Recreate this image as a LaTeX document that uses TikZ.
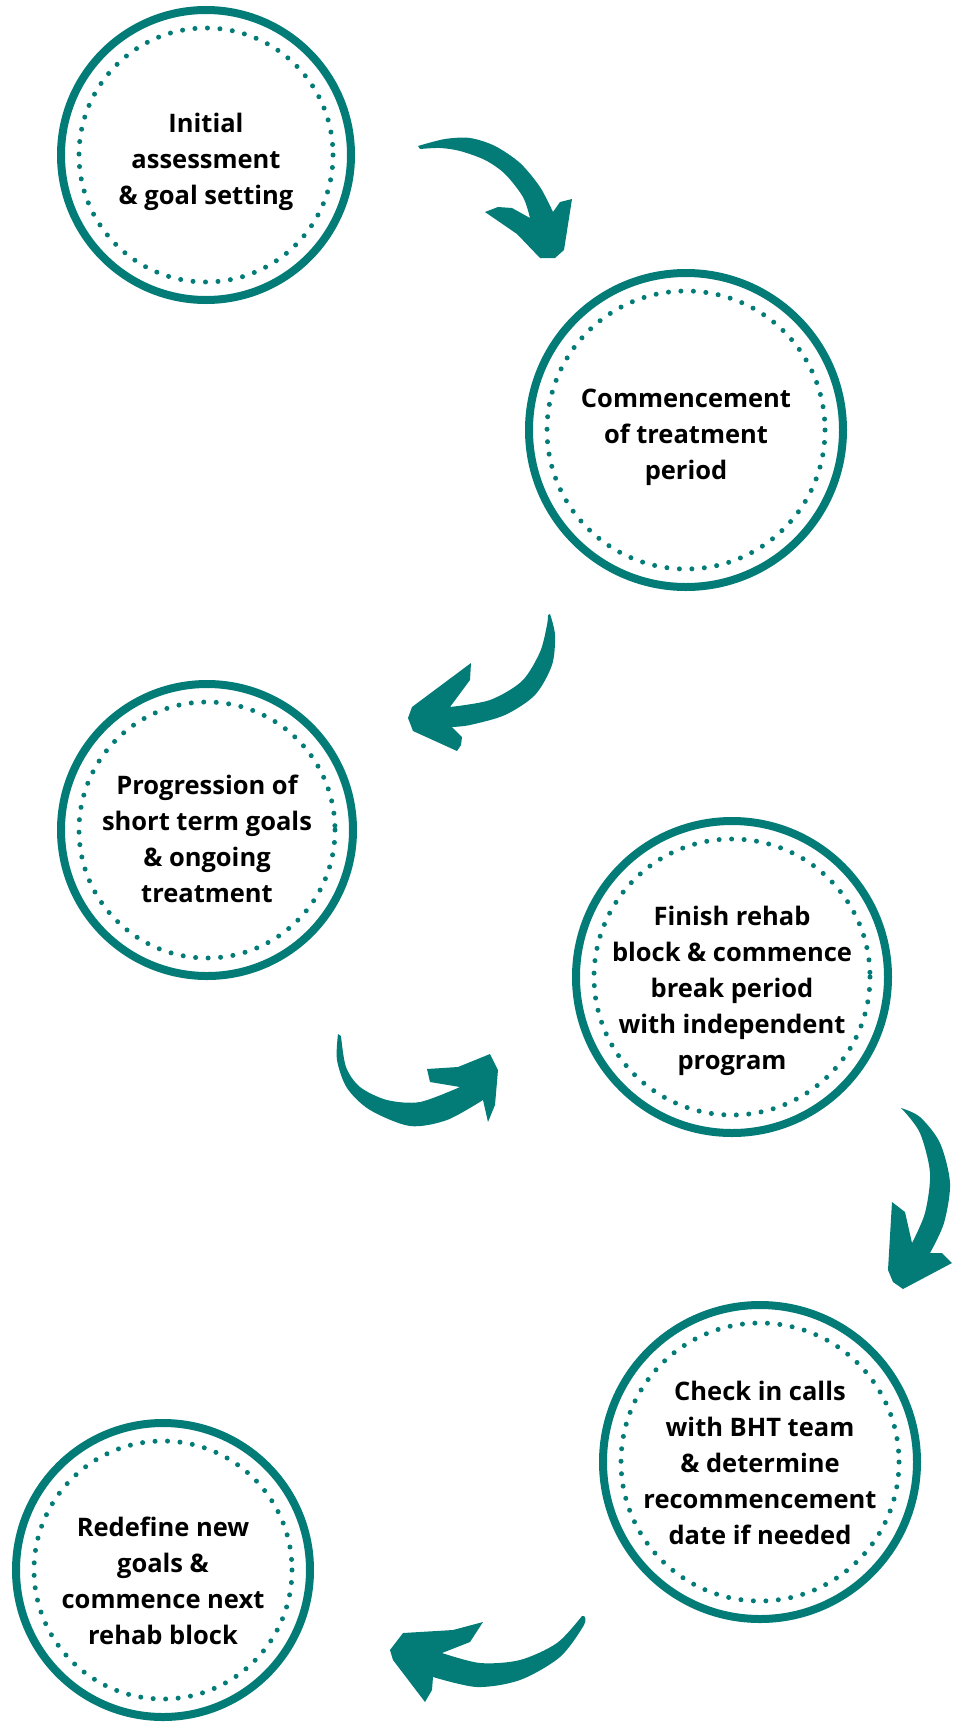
\documentclass[tikz,border=0pt]{standalone}
\usepackage{fontspec}
\setmainfont{Open Sans}
\definecolor{rehabteal}{HTML}{037C78}

\begin{document}
\begin{tikzpicture}[x=1pt,y=-1pt]
  \tikzstyle{stage}=[circle,draw=rehabteal,line width=8pt,fill=white,inner sep=0pt]
  \tikzstyle{stagetext}=[align=center,inner sep=0pt,font=\bfseries\fontsize{25.5}{36}\selectfont]
  \tikzstyle{dots}=[draw=rehabteal,line width=5pt,line cap=round,dash pattern=on 0pt off 12.5pt]
  \tikzstyle{swoosh}=[fill=rehabteal]

  \useasboundingbox (0,0) rectangle (964,1727);

  \foreach \name/\x/\y/\r/\dy/\text in {
      1/206/155/145/7/{Initial\\assessment\\\& goal setting},
      2/686/430/157/7/{Commencement\\of treatment\\period},
      3/207/830/146/9/{Progression of\\short term goals\\\& ongoing\\treatment},
      4/732/977/156/14/{Finish rehab\\block \& commence\\break period\\with independent\\program},
      5/760/1462/157/1/{Check in calls\\with BHT team\\\& determine\\recommencement\\date if needed},
      6/163/1570/147/11/{Redefine new\\goals \&\\commence next\\rehab block}}
  {
    \node[stage,minimum size=2*\r pt] (S-\name) at (\x,\y) {};
    \draw[dots] (S-\name.center) circle ({\r-18});
    \node[stagetext] (T-\name) at ([yshift=-\dy pt]S-\name.center) {\text};
  }

  % hand drawn arrows between the stages
  \fill[swoosh] plot[smooth] coordinates {(418,146) (445,139) (470,138) (495,146) (520,163) (540,187) (553,212)}
    -- (560,202) -- (572,199) -- (564,250) -- (555,258) -- (540,258) -- (517,234) -- (485,212)
    -- (498,207) -- (512,208) -- (530,218)
    -- plot[smooth] coordinates {(530,218) (523,197) (505,174) (485,160) (460,151) (440,148) (420,149)} -- cycle;

  \fill[swoosh] plot[smooth] coordinates {(550,614) (555,635) (552,665) (535,695) (505,715) (470,725) (452,727)}
    -- (462,737) -- (461,745) -- (457,751) -- (413,731) -- (408,718) -- (412,707) -- (471,663)
    -- (470,680) -- (450,707)
    -- plot[smooth] coordinates {(450,707) (490,700) (522,681) (540,652) (547,625) (548,615)} -- cycle;

  \fill[swoosh] plot[smooth] coordinates {(338,1034) (337,1060) (347,1088) (370,1110) (410,1126) (447,1120) (483,1100)}
    -- (488,1122) -- (495,1105) -- (498,1070) -- (490,1054) -- (458,1067) -- (427,1069)
    -- (430,1082) -- (460,1087)
    -- plot[smooth] coordinates {(460,1087) (420,1102) (387,1100) (360,1087) (346,1067) (341,1036)} -- cycle;

  \fill[swoosh] plot[smooth] coordinates {(901,1108) (920,1117) (940,1143) (950,1183) (944,1223) (930,1253)}
    -- (942,1253) -- (952,1263) -- (903,1289) -- (893,1282) -- (888,1270) -- (892,1202)
    -- (905,1212) -- (912,1243)
    -- plot[smooth] coordinates {(912,1243) (925,1213) (930,1173) (920,1133) (903,1110)} -- cycle;

  \fill[swoosh] plot[smooth] coordinates {(584,1616) (584,1625) (560,1657) (520,1680) (477,1687) (433,1677)}
    -- (432,1690) -- (425,1702) -- (393,1660) -- (390,1650) -- (403,1633) -- (453,1630)
    -- (483,1622) -- (470,1642) -- (442,1653)
    -- plot[smooth] coordinates {(442,1653) (480,1663) (520,1660) (557,1643) (582,1616)} -- cycle;

\end{tikzpicture}
\end{document}
